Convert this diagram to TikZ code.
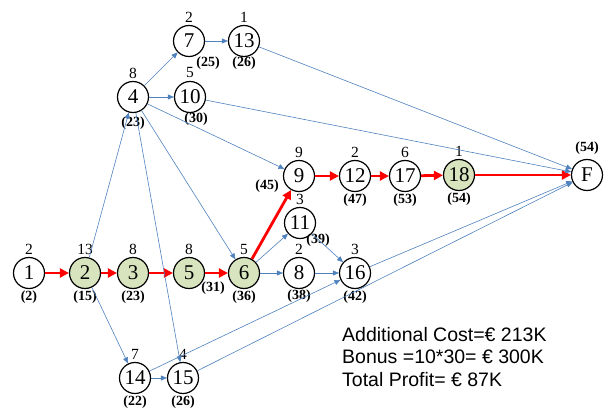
\documentclass[tikz,border=0pt]{standalone}
\usepackage{fontspec}
\setmainfont{Liberation Serif}
\newfontfamily\notefont{Liberation Sans}
\usetikzlibrary{arrows.meta}
\definecolor{critfill}{RGB}{215,228,189}
\definecolor{linkblue}{RGB}{79,129,189}

\begin{document}
\begin{tikzpicture}[x=1pt,y=-1pt,
			event node/.style={circle,draw,line width=1.2pt,minimum size=31pt,inner sep=0pt,font=\fontsize{21}{21}\selectfont},
			crit node/.style={event node,fill=critfill},
			dur label/.style={inner sep=0pt,font=\fontsize{15.5}{15.5}\selectfont},
			time label/.style={inner sep=0pt,font=\fontsize{14}{14}\selectfont\bfseries},
			link/.style={-{Triangle[length=6pt,width=5pt]},color=linkblue,line width=0.6pt},
			crit link/.style={-{Triangle[length=9pt,width=9pt]},red,line width=2.8pt}
			]
			
			\useasboundingbox (0,0) rectangle (607,409);
			
			\def \up {24};
			
			% events: name/x/y/duration/time/offset of time label/style
			\foreach \n/\x/\y/\d/\t/\dx/\dy/\s in {
				1/29/273/2/2/0/24/event node,
				2/85/273/13/15/0/24/crit node,
				3/133/273/8/23/0/24/crit node,
				5/189/273/8/31/24/15/crit node,
				6/244/273/5/36/0/24/crit node,
				8/299/273/2/38/0/23/event node,
				16/355/273/3/42/0/24/event node,
				11/300/223/3/39/18/17/event node,
				9/299/176/9/45/-32/10/event node,
				12/355/176/2/47/0/24/event node,
				17/405/176/6/53/0/24/event node,
				18/459/175/1/54/0/24/crit node,
				4/133/97/8/23/0/26/event node,
				10/190/97/5/30/6/22/event node,
				7/189/41/2/25/19/22/event node,
				13/244/41/1/26/0/22/event node,
				14/135/378/7/22/0/24/event node,
				15/183/378/4/26/0/24/event node} {
				
				\node[\s] (n\n) at (\x,\y) {\n};
				\node[dur label] (d\n) at (\x,\y-\up) {\d};
				\node[time label] (t\n) at (\x+\dx,\y+\dy) {(\t)};
			}
			\node[event node] (nF) at (587,175) {F};
			\node[time label] (tF) at (587,148) {(54)};
			
			% critical path
			\foreach \a/\b in {1/2,2/3,3/5,5/6,6/9,9/12,12/17,17/18,18/F}
				\draw[crit link] (n\a) -- (n\b);
			
			% other activities
			\foreach \a/\b in {2/4,2/14,4/7,4/10,4/9,4/6,4/15,7/13,13/F,10/F,
				6/11,6/8,11/16,8/16,14/15,14/16,15/F,16/F}
				\draw[link] (n\a) -- (n\b);
			
			\node[anchor=north west,align=left,inner sep=0pt,
				font=\notefont\fontsize{19.5}{22.5}\selectfont] (note) at (342,327)
				{Additional Cost=€ 213K\\Bonus =10*30= € 300K\\Total Profit= € 87K};
			
\end{tikzpicture}
\end{document}
